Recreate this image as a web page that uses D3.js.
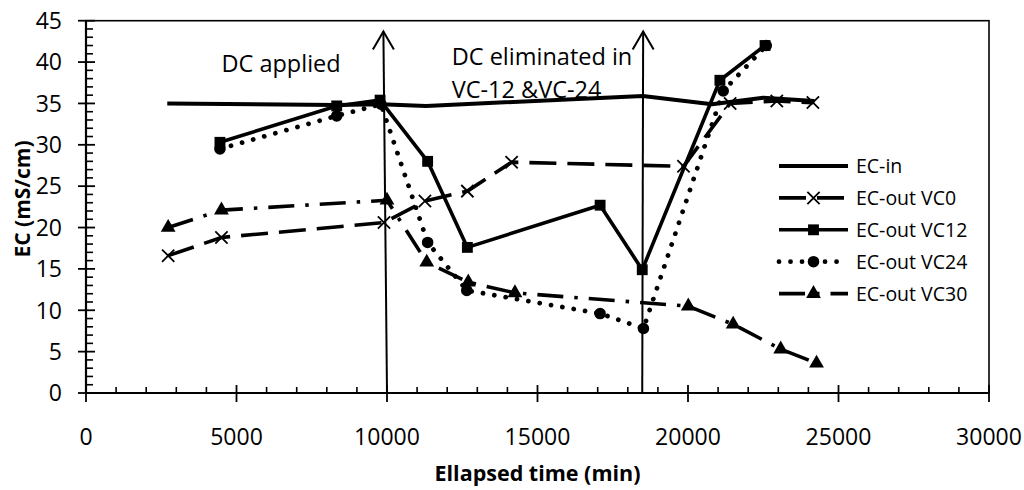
<!DOCTYPE html>
<html>
<head>
<meta charset="utf-8">
<script src="https://cdn.jsdelivr.net/npm/d3@7"></script>
<style>
  html, body { margin: 0; padding: 0; background: #fff; }
  svg { display: block; font-family: "Open Sans", "Noto Sans", sans-serif; }
</style>
</head>
<body>
<svg id="chart" width="1024" height="490"></svg>
<script>
// Elapsed time (min) and EC readings (mS/cm) for the inlet and each outlet
const ecInTime  = [2700, 8300, 9800, 11300, 18500, 20800, 22500, 24200];
const ecInValue = [35.0, 34.8, 34.9, 34.7, 35.9, 34.9, 35.7, 35.3];

const vc0Time  = [2730, 4500, 9900, 11260, 12670, 14140, 19850, 21400, 22950, 24150];
const vc0Value = [16.6, 18.8, 20.6, 23.2, 24.4, 27.9, 27.4, 35.0, 35.3, 35.1];

const vc12Time  = [4450, 8330, 9770, 11350, 12670, 17080, 18480, 21060, 22560];
const vc12Value = [30.3, 34.7, 35.4, 28.0, 17.6, 22.7, 14.9, 37.8, 42.0];

const vc24Time  = [4450, 8330, 9800, 11350, 12650, 17080, 18520, 21170, 22600];
const vc24Value = [29.5, 33.5, 34.9, 18.2, 12.4, 9.6, 7.8, 36.5, 42.0];

const vc30Time  = [2730, 4500, 10000, 11320, 12700, 14250, 20010, 21500, 23080, 24270];
const vc30Value = [20.0, 22.1, 23.3, 15.8, 13.4, 12.1, 10.5, 8.3, 5.3, 3.6];

const seriesNames = ["EC-in", "EC-out VC0", "EC-out VC12", "EC-out VC24", "EC-out VC30"];

const xTicks = [0, 5000, 10000, 15000, 20000, 25000, 30000];
const yTicks = [0, 5, 10, 15, 20, 25, 30, 35, 40, 45];

// Event markers: vertical arrows and their notes
const arrowBaseTime = [10000, 18480];
const arrowTipTime  = [9880, 18510];
const arrowTipValue = 43.7;
const noteLines = [
  { t: 4500,  v: 38.8, text: "DC applied" },
  { t: 12150, v: 39.7, text: "DC eliminated in" },
  { t: 12150, v: 35.7, text: "VC-12 &VC-24" }
];

const svg = d3.select("#chart");
const margin = { top: 20.7, right: 35, bottom: 97, left: 86 };
const W = 1024, H = 490;
const x = d3.scaleLinear().domain([0, 30000]).range([margin.left, W - margin.right]);
const y = d3.scaleLinear().domain([0, 45]).range([H - margin.bottom, margin.top]);

const zip = (ts, vs) => ts.map((t, i) => ({ t, v: vs[i] }));
const series = [
  { name: seriesNames[0], data: zip(ecInTime, ecInValue), width: 4,   dash: null, cap: "butt", marker: null },
  { name: seriesNames[1], data: zip(vc0Time, vc0Value),   width: 3.6, dash: "27,11", cap: "butt", marker: "x" },
  { name: seriesNames[2], data: zip(vc12Time, vc12Value), width: 3.6, dash: null, cap: "butt", marker: "square" },
  { name: seriesNames[3], data: zip(vc24Time, vc24Value), width: 4.8, dash: "0.01,11.5", cap: "round", marker: "circle" },
  { name: seriesNames[4], data: zip(vc30Time, vc30Value), width: 3.6, dash: "26,11,3.5,11", cap: "butt", marker: "triangle" }
];

// X-shaped marker drawn as two strokes
const symbolCrossX = {
  draw(ctx, size) {
    const r = Math.sqrt(size) / 2;
    ctx.moveTo(-r, -r); ctx.lineTo(r, r);
    ctx.moveTo(r, -r); ctx.lineTo(-r, r);
  }
};
function markerPath(kind) {
  if (kind === "x") return d3.symbol(symbolCrossX, 150)();
  if (kind === "square") return d3.symbol(d3.symbolSquare, 118)();
  if (kind === "circle") return d3.symbol(d3.symbolCircle, 105)();
  if (kind === "triangle") return d3.symbol(d3.symbolTriangle, 95)();
  return null;
}
function drawMarker(g, kind, cx, cy) {
  const p = g.append("path")
    .attr("d", markerPath(kind))
    .attr("transform", `translate(${cx},${cy})`);
  if (kind === "x") p.attr("fill", "none").attr("stroke", "#000").attr("stroke-width", 1.8);
  else p.attr("fill", "#000");
}

// Plot frame
svg.append("rect")
  .attr("x", x(0)).attr("y", y(45))
  .attr("width", x(30000) - x(0)).attr("height", y(0) - y(45))
  .attr("fill", "none").attr("stroke", "#000").attr("stroke-width", 1.6);

// X axis: minor ticks inside, major ticks crossing
const xAxisG = svg.append("g");
const xMinor = d3.range(0, 30001, 1000).filter(t => t % 5000 !== 0);
xAxisG.selectAll("line.minor").data(xMinor).join("line")
  .attr("x1", d => x(d)).attr("x2", d => x(d))
  .attr("y1", y(0)).attr("y2", y(0) - 6)
  .attr("stroke", "#000").attr("stroke-width", 1.6);
xAxisG.selectAll("line.major").data(xTicks).join("line")
  .attr("x1", d => x(d)).attr("x2", d => x(d))
  .attr("y1", y(0) - 8).attr("y2", y(0) + 9)
  .attr("stroke", "#000").attr("stroke-width", 1.8);
xAxisG.selectAll("text").data(xTicks).join("text")
  .attr("x", d => x(d)).attr("y", 445)
  .attr("text-anchor", "middle")
  .attr("font-size", 23)
  .text(d => d);

// Y axis
const yAxisG = svg.append("g");
const yMinor = d3.range(0, 46, 1).filter(v => v % 5 !== 0);
yAxisG.selectAll("line.minor").data(yMinor).join("line")
  .attr("x1", x(0)).attr("x2", x(0) + 7)
  .attr("y1", d => y(d)).attr("y2", d => y(d))
  .attr("stroke", "#000").attr("stroke-width", 1.6);
yAxisG.selectAll("line.major").data(yTicks).join("line")
  .attr("x1", x(0) - 8).attr("x2", x(0) + 9)
  .attr("y1", d => y(d)).attr("y2", d => y(d))
  .attr("stroke", "#000").attr("stroke-width", 1.8);
yAxisG.selectAll("text").data(yTicks).join("text")
  .attr("x", 62).attr("y", d => y(d))
  .attr("dy", "0.36em")
  .attr("text-anchor", "end")
  .attr("font-size", 23)
  .text(d => d);

// Axis lines on top of the frame
svg.append("line").attr("x1", x(0)).attr("x2", x(30000)).attr("y1", y(0)).attr("y2", y(0))
  .attr("stroke", "#000").attr("stroke-width", 2.2);
svg.append("line").attr("x1", x(0)).attr("x2", x(0)).attr("y1", y(0)).attr("y2", y(45))
  .attr("stroke", "#000").attr("stroke-width", 2.2);

// Axis titles
svg.append("text")
  .attr("x", (x(0) + x(30000)) / 2).attr("y", 481)
  .attr("text-anchor", "middle")
  .attr("font-size", 21.5).attr("font-weight", "bold")
  .text("Ellapsed time (min)");
svg.append("text")
  .attr("transform", `translate(30,199) rotate(-90)`)
  .attr("text-anchor", "middle")
  .attr("font-size", 21).attr("font-weight", "bold")
  .text("EC (mS/cm)");

// Series lines and markers
const line = d3.line().x(d => x(d.t)).y(d => y(d.v));
series.forEach(s => {
  const g = svg.append("g");
  g.append("path")
    .datum(s.data)
    .attr("d", line)
    .attr("fill", "none")
    .attr("stroke", "#000")
    .attr("stroke-width", s.width)
    .attr("stroke-linejoin", "round")
    .attr("stroke-linecap", s.cap)
    .attr("stroke-dasharray", s.dash);
  if (s.marker) s.data.forEach(d => drawMarker(g, s.marker, x(d.t), y(d.v)));
});

// Event arrows
const arrowsG = svg.append("g");
arrowBaseTime.forEach((t0, i) => {
  const x0 = x(t0), x1 = x(arrowTipTime[i]), yTip = y(arrowTipValue);
  arrowsG.append("line")
    .attr("x1", x0).attr("y1", y(0)).attr("x2", x1).attr("y2", yTip)
    .attr("stroke", "#000").attr("stroke-width", 2);
  arrowsG.append("path")
    .attr("d", `M${x1 - 10.5},${yTip + 18} L${x1},${yTip} L${x1 + 10.5},${yTip + 18}`)
    .attr("fill", "none").attr("stroke", "#000").attr("stroke-width", 2);
});

// Notes beside the arrows
svg.append("g").selectAll("text").data(noteLines).join("text")
  .attr("x", d => x(d.t)).attr("y", d => y(d.v))
  .attr("font-size", 23.5)
  .text(d => d.text);

// Legend
const legend = svg.append("g");
const lx0 = 779, lx1 = 848, ly0 = 166, lstep = 31.9;
series.forEach((s, i) => {
  const ly = ly0 + i * lstep;
  const g = legend.append("g");
  g.append("line")
    .attr("x1", lx0).attr("x2", lx1).attr("y1", ly).attr("y2", ly)
    .attr("stroke", "#000")
    .attr("stroke-width", s.width)
    .attr("stroke-linecap", s.cap)
    .attr("stroke-dasharray", s.dash);
  if (s.marker) drawMarker(g, s.marker, (lx0 + lx1) / 2, ly);
  g.append("text")
    .attr("x", 856).attr("y", ly).attr("dy", "0.36em")
    .attr("font-size", 19.5)
    .text(s.name);
});
</script>
</body>
</html>
